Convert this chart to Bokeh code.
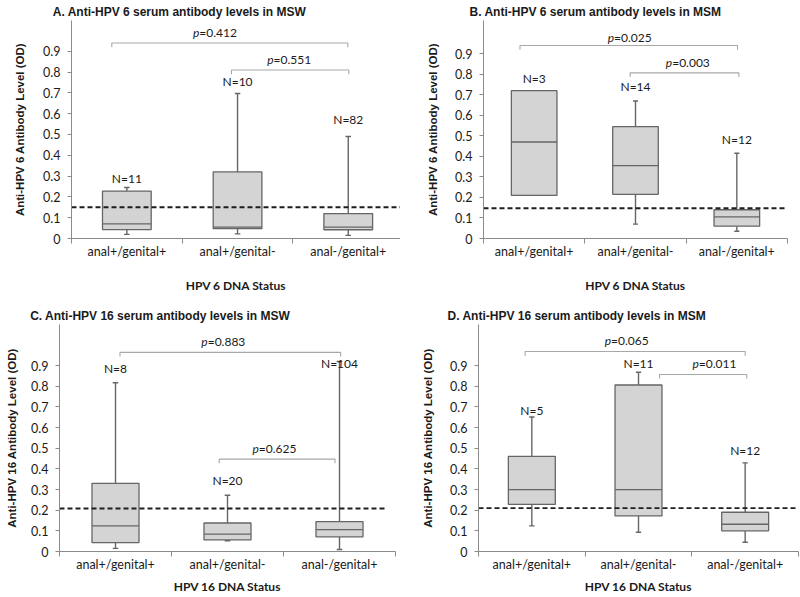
from bokeh.plotting import figure
from bokeh.models import Range1d, FixedTicker, Label, Title
from bokeh.layouts import column, row
from bokeh.embed import file_html
from bokeh.resources import INLINE
from bokeh.core.properties import value

NAN = float("nan")

# ---------------- data ----------------
categories = ["anal+/genital+", "anal+/genital-", "anal-/genital+"]
y_ticks = [0.0, 0.1, 0.2, 0.3, 0.4, 0.5, 0.6, 0.7, 0.8, 0.9]
y_tick_labels = ["0", "0.1", "0.2", "0.3", "0.4", "0.5", "0.6", "0.7", "0.8", "0.9"]

A_title = "Anti-HPV 6 serum antibody levels in MSW"
A_low = [0.020, 0.022, 0.015]
A_q1 = [0.043, 0.047, 0.042]
A_median = [0.070, 0.055, 0.055]
A_q3 = [0.228, 0.320, 0.120]
A_high = [0.245, 0.697, 0.490]
A_n = ["N=11", "N=10", "N=82"]
A_cutoff = 0.150
A_pvalues = ["0.412", "0.551"]

B_title = "Anti-HPV 6 serum antibody levels in MSM"
B_low = [NAN, 0.070, 0.035]
B_q1 = [0.210, 0.215, 0.060]
B_median = [0.470, 0.355, 0.105]
B_q3 = [0.720, 0.545, 0.140]
B_high = [NAN, 0.670, 0.415]
B_n = ["N=3", "N=14", "N=12"]
B_cutoff = 0.147
B_pvalues = ["0.025", "0.003"]

C_title = "Anti-HPV 16 serum antibody levels in MSW"
C_low = [0.015, 0.052, 0.010]
C_q1 = [0.043, 0.056, 0.071]
C_median = [0.124, 0.084, 0.106]
C_q3 = [0.330, 0.138, 0.145]
C_high = [0.817, 0.272, 0.920]
C_n = ["N=8", "N=20", "N=104"]
C_cutoff = 0.208
C_pvalues = ["0.883", "0.625"]

D_title = "Anti-HPV 16 serum antibody levels in MSM"
D_low = [0.124, 0.093, 0.045]
D_q1 = [0.228, 0.172, 0.100]
D_median = [0.300, 0.300, 0.132]
D_q3 = [0.461, 0.806, 0.190]
D_high = [0.651, 0.868, 0.429]
D_n = ["N=5", "N=11", "N=12"]
D_cutoff = 0.210
D_pvalues = ["0.065", "0.011"]

# ---------------- layout / style ----------------
LAYOUT = {
    "A": dict(h=295, xmax=2.972, ymax=1.048, mbl=71, mbr=0, mbt=20, mbb=57, box_w=0.44,
              n_y=[0.288, 0.754, 0.571],
              brackets=[(0.364, 2.496, 0.940), (1.445, 2.505, 0.810)],
              p_pos=[(1.29, 0.990), (1.96, 0.860)],
              t_off=-18.7, dash_end=2.972, xls=16, yls=14),
    "B": dict(h=295, xmax=3.0, ymax=1.062, mbl=83, mbr=13, mbt=17, mbb=57, box_w=0.45,
              n_y=[0.780, 0.740, 0.480],
              brackets=[(0.360, 2.507, 0.940), (1.447, 2.520, 0.807)],
              p_pos=[(1.437, 0.980), (2.01, 0.855)],
              t_off=-14.0, dash_end=3.0, xls=16, yls=13),
    "C": dict(h=301, xmax=3.0, ymax=1.099, mbl=59, mbr=5, mbt=29, mbb=44, box_w=0.42,
              n_y=[0.887, 0.346, 0.910],
              brackets=[(0.540, 2.510, 0.964), (1.426, 2.460, 0.447)],
              p_pos=[(1.457, 1.017), (1.914, 0.500)],
              t_off=-29.3, dash_end=2.908, xls=4, yls=10),
    "D": dict(h=301, xmax=3.0, ymax=1.099, mbl=78, mbr=2, mbt=29, mbb=44, box_w=0.44,
              n_y=[0.683, 0.910, 0.490],
              brackets=[(0.437, 2.500, 0.968), (1.697, 2.515, 0.857)],
              p_pos=[(1.383, 1.020), (2.206, 0.908)],
              t_off=-31.0, dash_end=3.0, xls=4, yls=13),
}

BOX_FILL = "#d4d4d4"
BOX_LINE = "#666666"
AXIS_COL = "#8a8a8a"
BRACKET_COL = "#a8a8a8"
TEXT_COL = "#1a1a1a"
BODY_FONT = "Lato"
TITLE_FONT = "Liberation Sans"


def build(letter, title, xlabel, ylabel, low, q1, med, q3, high, nlab, cutoff, pvals):
    L = LAYOUT[letter]
    p = figure(width=400, height=L["h"], x_range=Range1d(0, L["xmax"]),
               y_range=Range1d(0, L["ymax"]), output_backend="svg",
               toolbar_location=None, tools="", title=None,
               min_border_left=L["mbl"], min_border_right=L["mbr"],
               min_border_top=L["mbt"], min_border_bottom=L["mbb"])
    p.outline_line_color = None
    p.xgrid.visible = False
    p.ygrid.visible = False
    p.background_fill_color = "white"

    n = len(categories)
    centers = [i + 0.5 for i in range(n)]
    bounds = [float(i) for i in range(n + 1)]
    w = L["box_w"]
    cap = 0.025

    # x axis
    xa = p.xaxis[0]
    xa.ticker = FixedTicker(ticks=centers, minor_ticks=bounds)
    xa.major_label_overrides = {c: lab for c, lab in zip(centers, categories)}
    xa.major_tick_out = 0
    xa.major_tick_in = 0
    xa.minor_tick_out = 5
    xa.minor_tick_in = 0
    xa.minor_tick_line_color = AXIS_COL
    xa.axis_line_color = AXIS_COL
    xa.major_label_text_font = BODY_FONT
    xa.major_label_text_font_size = "12.5px"
    xa.major_label_text_color = TEXT_COL
    xa.major_label_standoff = 0
    xa.axis_label = xlabel
    xa.axis_label_text_font = BODY_FONT
    xa.axis_label_text_font_style = "bold"
    xa.axis_label_text_font_size = "12px"
    xa.axis_label_text_color = TEXT_COL
    xa.axis_label_standoff = L["xls"]

    # y axis
    ya = p.yaxis[0]
    ya.ticker = FixedTicker(ticks=y_ticks, minor_ticks=[])
    ya.major_label_overrides = {t: s for t, s in zip(y_ticks, y_tick_labels)}
    ya.major_tick_out = 4
    ya.major_tick_in = 0
    ya.minor_tick_out = 0
    ya.minor_tick_in = 0
    ya.major_tick_line_color = AXIS_COL
    ya.axis_line_color = AXIS_COL
    ya.major_label_text_font = BODY_FONT
    ya.major_label_text_font_size = "12.5px"
    ya.major_label_text_color = TEXT_COL
    ya.major_label_standoff = 7
    ya.axis_label = ylabel
    ya.axis_label_text_font = TITLE_FONT
    ya.axis_label_text_font_style = "bold"
    ya.axis_label_text_font_size = "11.5px"
    ya.axis_label_text_color = TEXT_COL
    ya.axis_label_standoff = L["yls"]

    # whiskers
    p.segment(x0=centers, x1=centers, y0=q3, y1=high, line_color=BOX_LINE, line_width=1.4)
    p.segment(x0=centers, x1=centers, y0=low, y1=q1, line_color=BOX_LINE, line_width=1.4)
    p.segment(x0=[c - cap for c in centers], x1=[c + cap for c in centers], y0=high, y1=high,
              line_color=BOX_LINE, line_width=1.4)
    p.segment(x0=[c - cap for c in centers], x1=[c + cap for c in centers], y0=low, y1=low,
              line_color=BOX_LINE, line_width=1.4)
    # boxes
    p.vbar(x=centers, width=w, bottom=q1, top=q3, fill_color=BOX_FILL,
           line_color=BOX_LINE, line_width=1.3)
    p.segment(x0=[c - w / 2 for c in centers], x1=[c + w / 2 for c in centers], y0=med, y1=med,
              line_color=BOX_LINE, line_width=1.3)

    # cutoff
    p.segment(x0=[0.0], x1=[L["dash_end"]], y0=[cutoff], y1=[cutoff],
              line_color="#1e1e1e", line_width=1.9, line_dash="5 3")

    # N labels
    p.text(x=centers, y=L["n_y"], text=nlab, text_align="center", text_baseline="middle",
           text_font=value(BODY_FONT), text_font_size="12px", text_color=TEXT_COL)

    # brackets and p values
    d = 0.02
    xs, ys = [], []
    for (x0, x1, yb) in L["brackets"]:
        xs.append([x0, x0, x1, x1])
        ys.append([yb - d, yb, yb, yb - d])
    p.multi_line(xs, ys, line_color=BRACKET_COL, line_width=1.1)
    for (px, py), pv in zip(L["p_pos"], pvals):
        p.add_layout(Label(x=px, y=py, text="p", text_font=BODY_FONT, text_font_style="italic",
                           text_font_size="12px", text_align="right", text_baseline="middle",
                           x_offset=-15, text_color=TEXT_COL))
        p.add_layout(Label(x=px, y=py, text="=" + pv, text_font=BODY_FONT,
                           text_font_size="12px", text_align="left", text_baseline="middle",
                           x_offset=-15, text_color=TEXT_COL))

    # title
    p.add_layout(Title(text=letter + ".  " + title, align="left", offset=L["t_off"],
                       standoff=3, text_font=TITLE_FONT, text_font_style="bold",
                       text_font_size="12px", text_color=TEXT_COL), "above")
    return p


pa = build("A", A_title, "HPV 6 DNA Status", "Anti-HPV 6 Antibody Level (OD)",
           A_low, A_q1, A_median, A_q3, A_high, A_n, A_cutoff, A_pvalues)
pb = build("B", B_title, "HPV 6 DNA Status", "Anti-HPV 6 Antibody Level (OD)",
           B_low, B_q1, B_median, B_q3, B_high, B_n, B_cutoff, B_pvalues)
pc = build("C", C_title, "HPV 16 DNA Status", "Anti-HPV 16 Antibody Level (OD)",
           C_low, C_q1, C_median, C_q3, C_high, C_n, C_cutoff, C_pvalues)
pd_ = build("D", D_title, "HPV 16 DNA Status", "Anti-HPV 16 Antibody Level (OD)",
            D_low, D_q1, D_median, D_q3, D_high, D_n, D_cutoff, D_pvalues)

layout = column(row(pa, pb), row(pc, pd_))
open("out.html", "w").write(file_html(layout, INLINE))
